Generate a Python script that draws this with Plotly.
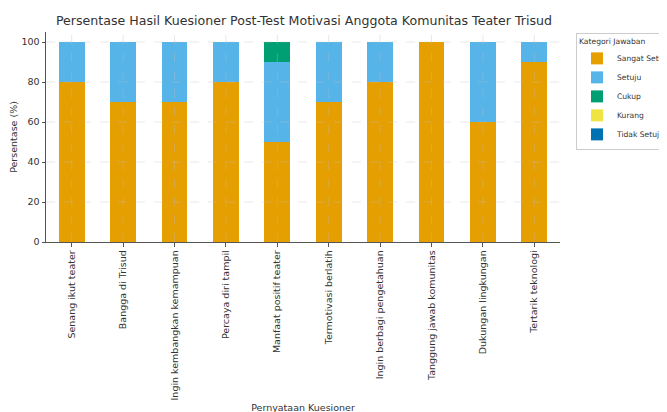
import plotly.graph_objects as go

categories = [
    "Senang ikut teater", "Bangga di Trisud", "Ingin kembangkan kemampuan",
    "Percaya diri tampil", "Manfaat positif teater", "Termotivasi berlatih",
    "Ingin berbagi pengetahuan", "Tanggung jawab komunitas",
    "Dukungan lingkungan", "Tertarik teknologi",
]
sangat_setuju = [80, 70, 70, 80, 50, 70, 80, 100, 60, 90]
setuju = [20, 30, 30, 20, 40, 30, 20, 0, 40, 10]
cukup = [0, 0, 0, 0, 10, 0, 0, 0, 0, 0]
kurang = [0, 0, 0, 0, 0, 0, 0, 0, 0, 0]
tidak_setuju = [0, 0, 0, 0, 0, 0, 0, 0, 0, 0]
y_ticks = [0, 20, 40, 60, 80, 100]

series = [
    ("Sangat Setuju", sangat_setuju, "#E69F00"),
    ("Setuju", setuju, "#56B4E9"),
    ("Cukup", cukup, "#009E73"),
    ("Kurang", kurang, "#F0E442"),
    ("Tidak Setuju", tidak_setuju, "#0072B2"),
]

xpos = list(range(len(categories)))

fig = go.Figure()
for name, vals, color in series:
    fig.add_trace(go.Bar(
        x=xpos, y=vals, name=name,
        marker=dict(color=color, line=dict(width=0)),
        width=0.5,
    ))

# grid drawn over the bars (as in the reference)
grid_style = dict(color="rgba(190,190,190,0.5)", width=0.7, dash="dash")
for xv in xpos:
    fig.add_shape(type="line", xref="x", yref="paper", x0=xv, x1=xv, y0=0, y1=1,
                  line=grid_style, layer="above")
for yv in y_ticks[1:]:
    fig.add_shape(type="line", xref="paper", yref="y", x0=0, x1=1, y0=yv, y1=yv,
                  line=grid_style, layer="above")

# the page body adds an 8px offset; positions below compensate for it
W, H, OFF = 667, 412, 8
font = "DejaVu Sans, Verdana, sans-serif"
fig.update_layout(
    barmode="stack",
    width=W, height=H,
    margin=dict(l=46 - OFF, r=W - (560 - OFF), t=32 - OFF, b=H - (242 - OFF), autoexpand=False),
    paper_bgcolor="white", plot_bgcolor="white",
    font=dict(family=font, size=9.5, color="#333"),
    title=dict(text="Persentase Hasil Kuesioner Post-Test Motivasi Anggota Komunitas Teater Trisud",
               xref="container", x=(304 - OFF) / W, xanchor="center",
               yref="container", y=1 - (21 - OFF) / H, yanchor="middle",
               font=dict(size=12.6, color="#333")),
    showlegend=True,
    legend=dict(
        title=dict(text="Kategori Jawaban", font=dict(size=7.6)),
        font=dict(size=7.6), traceorder="normal",
        xref="container", yref="container",
        x=(576 - OFF) / W, xanchor="left", y=1 - (33 - OFF) / H, yanchor="top",
        bordercolor="#ccc", borderwidth=1, bgcolor="white",
        tracegroupgap=0,
    ),
)
fig.update_xaxes(
    range=[-0.5, 9.5], tickmode="array", tickvals=xpos,
    ticktext=categories, tickangle=-90, tickfont=dict(size=9.5),
    showline=True, linecolor="#555", linewidth=1,
    ticks="outside", ticklen=3.5, tickcolor="#555",
    showgrid=False, automargin=False,
    title=dict(text="Pernyataan Kuesioner", font=dict(size=9.5), standoff=4),
)
fig.update_yaxes(
    range=[0, 105], tickvals=y_ticks, tickfont=dict(size=9.5),
    showline=True, linecolor="#555", linewidth=1,
    ticks="outside", ticklen=3.5, tickcolor="#555",
    showgrid=False, automargin=False,
    zeroline=False,
    title=dict(text="Persentase (%)", font=dict(size=9.5), standoff=5),
)
fig.write_html("out.html")
